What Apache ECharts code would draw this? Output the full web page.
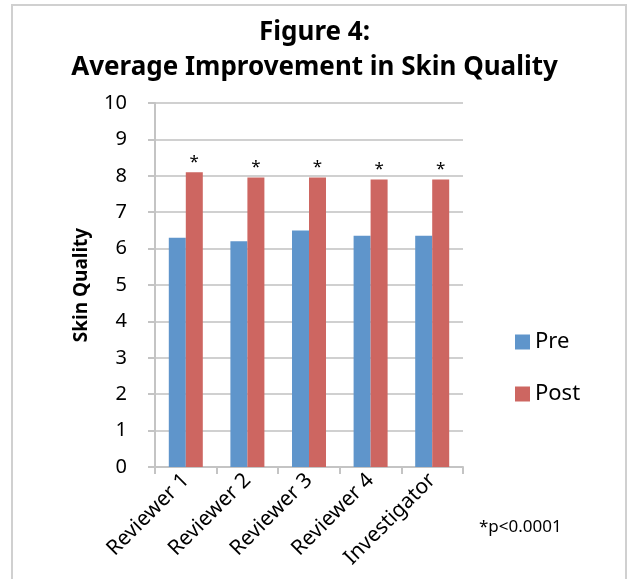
<!DOCTYPE html>
<html>
<head>
<meta charset="utf-8">
<script src="https://cdn.jsdelivr.net/npm/echarts@6/dist/echarts.min.js"></script>
<style>
  html, body { margin: 0; padding: 0; background: #fff; }
  #chart { width: 629px; height: 579px; }
</style>
</head>
<body>
<div id="chart"></div>
<script>
  // data
  const categories = ['Reviewer 1', 'Reviewer 2', 'Reviewer 3', 'Reviewer 4', 'Investigator']
  const preValues = [6.3, 6.2, 6.5, 6.35, 6.35]
  const postValues = [8.1, 7.95, 7.95, 7.9, 7.9]
  const yTicks = { min: 0, max: 10, interval: 1 }

  const font = 'Noto Sans'
  let chart = echarts.init(document.getElementById('chart'))
  chart.setOption({
    animation: false,
    textStyle: { fontFamily: font },
    title: {
      text: 'Figure 4:\nAverage Improvement in Skin Quality',
      left: 'center',
      top: 10,
      textStyle: { fontSize: 26, fontWeight: 'bold', color: '#000', lineHeight: 35, fontFamily: font }
    },
    graphic: [
      {
        type: 'rect',
        shape: { x: 12, y: 5, width: 614, height: 580 },
        style: { fill: 'none', stroke: '#d0d0d0', lineWidth: 2 }
      },
      {
        type: 'text',
        left: 479,
        top: 519,
        style: { text: '*p<0.0001', fontSize: 17, fill: '#000', fontFamily: font }
      }
    ],
    legend: {
      orient: 'vertical',
      left: 510,
      top: 326,
      itemWidth: 15,
      itemHeight: 15,
      itemGap: 30,
      icon: 'rect',
      textStyle: { fontSize: 22, color: '#000', fontFamily: font },
      data: ['Pre', 'Post']
    },
    grid: { left: 155, right: 166, top: 103, bottom: 112 },
    xAxis: {
      type: 'category',
      data: categories,
      axisLine: { lineStyle: { color: '#c4c4c4', width: 2 } },
      axisTick: { show: true, length: 7, lineStyle: { color: '#c4c4c4', width: 2 } },
      axisLabel: { rotate: 45, fontSize: 21, color: '#000', interval: 0, margin: 10 }
    },
    yAxis: {
      type: 'value',
      min: yTicks.min,
      max: yTicks.max,
      interval: yTicks.interval,
      name: 'Skin Quality',
      nameLocation: 'middle',
      nameGap: 64,
      nameTextStyle: { fontSize: 19, fontWeight: 'bold', color: '#000' },
      axisLine: { show: true, lineStyle: { color: '#c4c4c4', width: 2 } },
      axisTick: { show: true, length: 7, lineStyle: { color: '#c4c4c4', width: 2 } },
      axisLabel: { fontSize: 20, color: '#000', margin: 28 },
      splitLine: { lineStyle: { color: '#d0d0d0', width: 2 } }
    },
    series: [
      {
        name: 'Pre',
        type: 'bar',
        data: preValues,
        barWidth: 17,
        barGap: '0%',
        itemStyle: { color: '#5F95CB' }
      },
      {
        name: 'Post',
        type: 'bar',
        data: postValues,
        barWidth: 17,
        itemStyle: { color: '#CD6661' },
        label: {
          show: true,
          position: 'top',
          formatter: '*',
          fontSize: 17,
          color: '#000',
          distance: 2
        }
      }
    ]
  })
</script>
</body>
</html>
